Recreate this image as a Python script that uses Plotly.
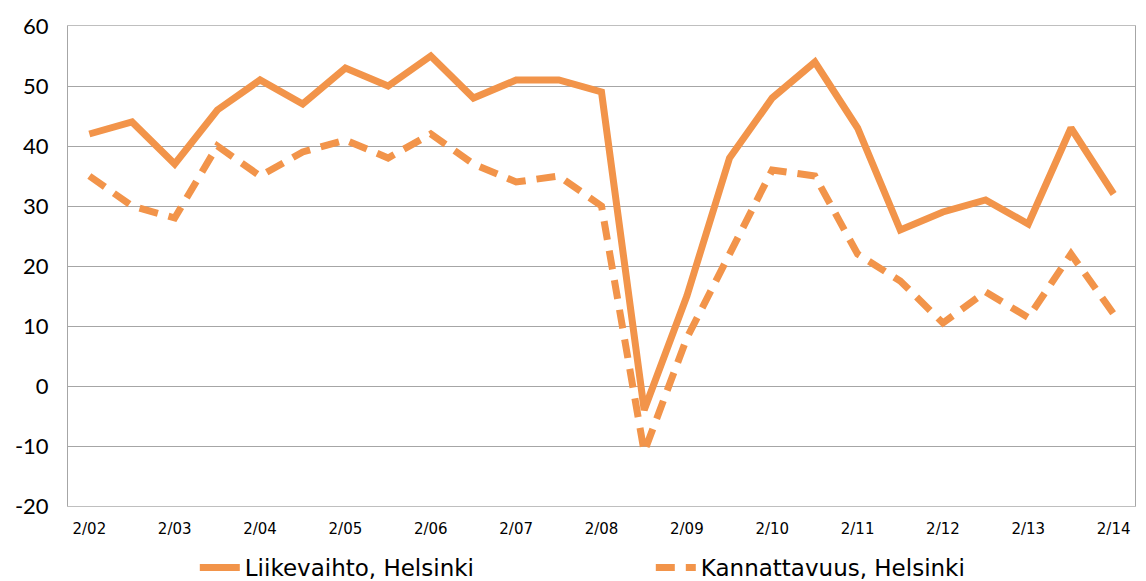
import plotly.graph_objects as go

periods = ["2/02", "8/02", "2/03", "8/03", "2/04", "8/04", "2/05", "8/05", "2/06", "8/06",
           "2/07", "8/07", "2/08", "8/08", "2/09", "8/09", "2/10", "8/10", "2/11", "8/11",
           "2/12", "8/12", "2/13", "8/13", "2/14"]
liikevaihto = [42, 44, 37, 46, 51, 47, 53, 50, 55, 48,
               51, 51, 49, -4, 15, 38, 48, 54, 43, 26,
               29, 31, 27, 43, 32]
kannattavuus = [35, 30, 28, 40, 35, 39, 41, 38, 42, 37,
                34, 35, 30, -11, 8, 22, 36, 35, 22, 17.5,
                10.5, 15.7, 11.4, 22, 12]
tick_labels = periods[::2]
y_ticks = [-20, -10, 0, 10, 20, 30, 40, 50, 60]
y_tick_text = ["-20", "-10", "0", "10", "20", "30", "40", "50", "60"]

color = "#F2944A"

fig = go.Figure()
fig.add_trace(go.Scatter(x=periods, y=liikevaihto, mode="lines", name="Liikevaihto, Helsinki",
                         line=dict(color=color, width=7)))
fig.add_trace(go.Scatter(x=periods, y=kannattavuus, mode="lines", name="Kannattavuus, Helsinki",
                         line=dict(color=color, width=7, dash="19px,11px")))

fig.update_layout(
    width=1146, height=581,
    margin=dict(l=60, r=19, t=18, b=83, autoexpand=False),
    paper_bgcolor="white", plot_bgcolor="white",
    showlegend=True,
    legend=dict(orientation="h", xref="container", yref="container",
                x=0.163, y=0.0, xanchor="left", yanchor="bottom",
                font=dict(family="DejaVu Sans", size=23, color="#000000"),
                entrywidth=401, entrywidthmode="pixels", itemwidth=40,
                bgcolor="rgba(0,0,0,0)"),
    xaxis=dict(type="category", tickmode="array", tickvals=tick_labels, ticktext=tick_labels,
               showgrid=False, showline=True, mirror=True, linecolor="#BFBFBF", linewidth=1,
               ticks="", ticklabelstandoff=9,
               tickfont=dict(family="DejaVu Sans", size=15, color="#000000"),
               range=[-0.5, len(periods) - 0.5], zeroline=False, automargin=False),
    yaxis=dict(range=[-20, 60], tickmode="array", tickvals=y_ticks, ticktext=y_tick_text,
               showgrid=True, gridcolor="#A6A6A6", gridwidth=1,
               showline=True, mirror=True, linecolor="#A6A6A6", linewidth=1,
               ticks="", ticklabelstandoff=14, automargin=False,
               tickfont=dict(family="Lato", size=22, color="#000000"), zeroline=False),
)

fig.write_html("out.html")
